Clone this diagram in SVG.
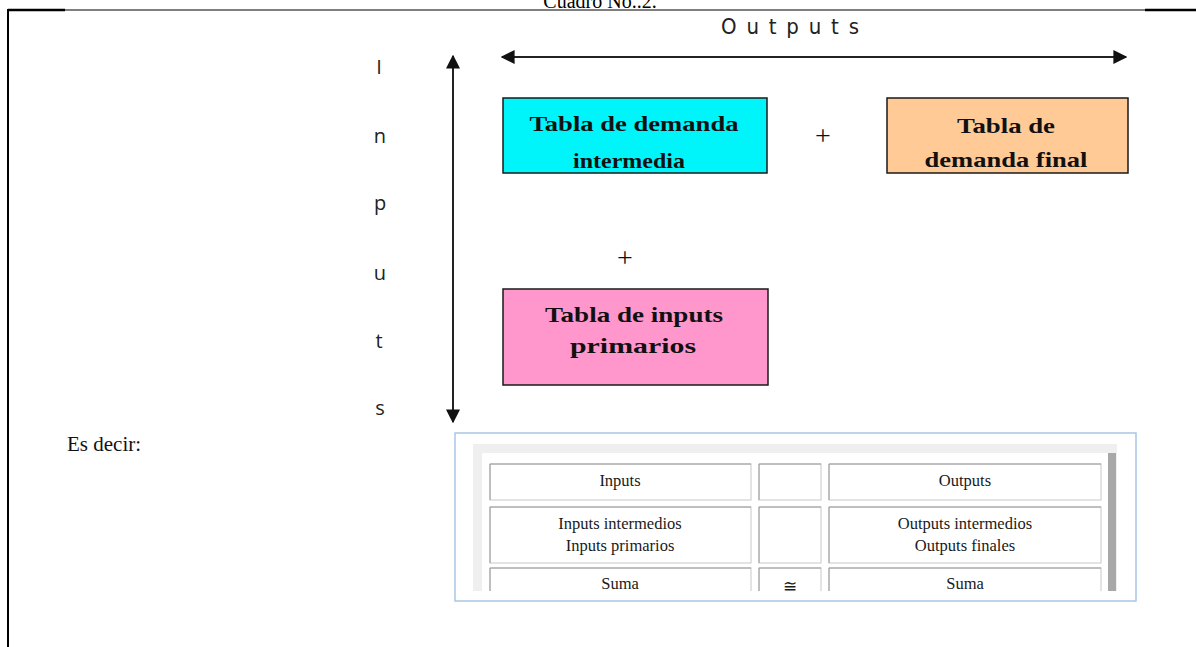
<svg xmlns="http://www.w3.org/2000/svg" width="1196" height="647" viewBox="0 0 1196 647">
<style>
.box{stroke:#1a1a1a;stroke-width:1.5}
.bt{font-family:"Liberation Serif","Times New Roman",serif;font-weight:bold;font-size:21px;fill:#111;text-anchor:middle}
.plus{font-family:"Liberation Serif",serif;font-size:28px;fill:#111;text-anchor:middle}
.inp{font-family:"Open Sans","DejaVu Sans",sans-serif;font-size:20px;fill:#222;text-anchor:middle}
.tt{font-family:"Liberation Serif","Times New Roman",serif;font-size:16.5px;fill:#1a1a1a;text-anchor:middle}
.cell{fill:#fff;stroke:#c8c8c8;stroke-width:1}
.cellhi{fill:none;stroke:#9a9a9a;stroke-width:1}
.arr{stroke:#222;stroke-width:2;fill:none}
</style>
<defs>
<marker id="ah" viewBox="0 0 10 10" refX="9" refY="5" markerWidth="7" markerHeight="7" orient="auto-start-reverse" markerUnits="strokeWidth">
<path d="M0,0 L10,5 L0,10 z" fill="#111"/>
</marker>
<clipPath id="c1"><rect x="500" y="96" width="270" height="73"/></clipPath>
<clipPath id="c2"><rect x="885" y="96" width="245" height="72"/></clipPath>
<clipPath id="tbl"><rect x="455" y="434" width="680" height="157"/></clipPath>
</defs>
<rect width="1196" height="647" fill="#fff"/>

<g id="frame">
<line x1="8" y1="10" x2="65" y2="10" stroke="#000" stroke-width="2.5"/>
<line x1="65" y1="10" x2="1145" y2="10" stroke="#000" stroke-width="1.2"/>
<line x1="1145" y1="10" x2="1196" y2="10" stroke="#000" stroke-width="2.5"/>
<line x1="8" y1="9" x2="8" y2="647" stroke="#000" stroke-width="2"/>
<text x="600" y="8" font-family="Liberation Serif,serif" font-size="20" text-anchor="middle" fill="#000">Cuadro No..2.</text>
</g>

<g id="connectors">
<line class="arr" x1="502" y1="57" x2="1126" y2="57" marker-start="url(#ah)" marker-end="url(#ah)"/>
<line class="arr" x1="453" y1="56" x2="453" y2="422" marker-start="url(#ah)" marker-end="url(#ah)"/>
</g>

<g id="outputs-label">
<text x="790" y="34" font-family="DejaVu Sans Condensed,Liberation Sans,sans-serif" font-size="22" fill="#222" text-anchor="middle" textLength="138" lengthAdjust="spacing">Outputs</text>
</g>

<g id="inputs-label">
<text class="inp" x="379" y="74">I</text>
<text class="inp" x="380" y="143">n</text>
<text class="inp" x="380" y="210">p</text>
<text class="inp" x="380" y="280">u</text>
<text class="inp" x="379" y="348">t</text>
<text class="inp" x="380" y="415">s</text>
</g>

<g id="node-demanda-intermedia">
<rect class="box" x="503" y="98" width="264" height="75" fill="#00F5FA"/>
<g clip-path="url(#c1)">
<text class="bt" x="634" y="131" textLength="209" lengthAdjust="spacingAndGlyphs">Tabla de demanda</text>
<text class="bt" x="629" y="168" textLength="112" lengthAdjust="spacingAndGlyphs">intermedia</text>
</g>
</g>

<g id="plus1"><text class="plus" x="823" y="145">+</text></g>

<g id="node-demanda-final">
<rect class="box" x="887" y="98" width="241" height="75" fill="#FFCA96"/>
<g clip-path="url(#c2)">
<text class="bt" x="1006" y="133" textLength="98" lengthAdjust="spacingAndGlyphs">Tabla de</text>
<text class="bt" x="1006" y="167" textLength="163" lengthAdjust="spacingAndGlyphs">demanda final</text>
</g>
</g>

<g id="plus2"><text class="plus" x="625" y="267">+</text></g>

<g id="node-inputs-primarios">
<rect class="box" x="503" y="289" width="265" height="96" fill="#FF96CC"/>
<text class="bt" x="634" y="322" textLength="178" lengthAdjust="spacingAndGlyphs">Tabla de inputs</text>
<text class="bt" x="633" y="353" textLength="126" lengthAdjust="spacingAndGlyphs">primarios</text>
</g>

<g id="es-decir">
<text x="67" y="451" font-family="Liberation Serif,serif" font-size="21" fill="#111">Es decir:</text>
</g>

<g id="table">
<rect x="455" y="433" width="681" height="168" fill="#fff" stroke="#a9c6e8" stroke-width="1.5"/>
<g clip-path="url(#tbl)">
<rect x="473" y="444" width="644" height="150" fill="#efefef"/>
<rect x="482" y="453" width="626" height="141" fill="#fff"/>
<rect x="1108" y="453" width="8" height="141" fill="#a8a8a8"/>

<rect class="cell" x="490" y="464" width="261" height="36"/>
<rect class="cell" x="759" y="464" width="62" height="36"/>
<rect class="cell" x="829" y="464" width="272" height="36"/>
<rect class="cell" x="490" y="507" width="261" height="56"/>
<rect class="cell" x="759" y="507" width="62" height="56"/>
<rect class="cell" x="829" y="507" width="272" height="56"/>
<rect class="cell" x="490" y="568" width="261" height="40"/>
<rect class="cell" x="759" y="568" width="62" height="40"/>
<rect class="cell" x="829" y="568" width="272" height="40"/>
<path class="cellhi" d="M490,500 V464 H751 M759,500 V464 H821 M829,500 V464 H1101 M490,563 V507 H751 M759,563 V507 H821 M829,563 V507 H1101 M490,600 V568 H751 M759,600 V568 H821 M829,600 V568 H1101"/>

<text class="tt" x="620" y="486">Inputs</text>
<text class="tt" x="965" y="486">Outputs</text>
<text class="tt" x="620" y="529">Inputs intermedios</text>
<text class="tt" x="620" y="551">Inputs primarios</text>
<text class="tt" x="965" y="529">Outputs intermedios</text>
<text class="tt" x="965" y="551">Outputs finales</text>
<text class="tt" x="620" y="589">Suma</text>
<text class="tt" x="790" y="592" font-size="14">≅</text>
<text class="tt" x="965" y="589">Suma</text>
</g>
</g>
</svg>
